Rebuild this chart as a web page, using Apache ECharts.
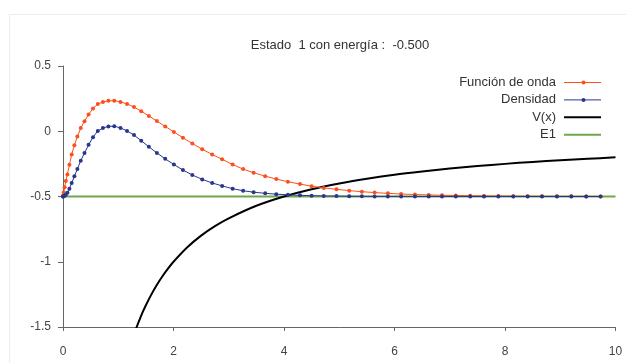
<!DOCTYPE html>
<html>
<head>
<meta charset="utf-8">
<script src="https://cdn.jsdelivr.net/npm/echarts@6/dist/echarts.min.js"></script>
<style>
  html, body { margin: 0; padding: 0; background: #fff; }
  #chart { width: 626px; height: 363px; }
</style>
</head>
<body>
<div id="chart"></div>
<script>
// Radial grid used by the solver (dense near the origin)
const xGrid = [0, 0.003, 0.013, 0.029, 0.051, 0.080, 0.116, 0.157, 0.206, 0.260,
  0.321, 0.389, 0.463, 0.543, 0.630, 0.723, 0.822, 0.928, 1.041, 1.159,
  1.285, 1.416, 1.554, 1.699, 1.850, 2.007, 2.171, 2.341, 2.52, 2.70,
  2.88, 3.07, 3.26, 3.45, 3.66, 3.86, 4.07, 4.29, 4.50, 4.72,
  4.95, 5.18, 5.41, 5.64, 5.88, 6.12, 6.37, 6.62, 6.86, 7.11,
  7.37, 7.62, 7.88, 8.15, 8.41, 8.67, 8.94, 9.20, 9.47, 9.73];

// Wave function, shifted by the state energy
const psi = [-0.5, -0.492, -0.469, -0.43, -0.382, -0.331, -0.257, -0.178, -0.107, -0.041,
  0.024, 0.077, 0.129, 0.174, 0.209, 0.224, 0.233, 0.234, 0.225, 0.209,
  0.186, 0.154, 0.117, 0.078, 0.037, -0.005, -0.05, -0.094, -0.138, -0.178,
  -0.215, -0.255, -0.29, -0.318, -0.344, -0.366, -0.387, -0.405, -0.421, -0.434,
  -0.445, -0.455, -0.463, -0.470, -0.476, -0.481, -0.485, -0.488, -0.4905, -0.4925,
  -0.494, -0.4953, -0.4964, -0.4972, -0.4978, -0.4983, -0.4987, -0.499, -0.4992, -0.4994];

// Probability density, shifted by the state energy
const density = [-0.5, -0.4999, -0.499, -0.4951, -0.4861, -0.4714, -0.441, -0.3963, -0.3456, -0.2893,
  -0.2254, -0.1671, -0.1044, -0.0457, 0.0027, 0.0242, 0.0373, 0.0388, 0.0256, 0.0027,
  -0.0294, -0.0723, -0.1193, -0.1659, -0.2116, -0.255, -0.2975, -0.3352, -0.369, -0.3963,
  -0.4188, -0.44, -0.4559, -0.4669, -0.4757, -0.482, -0.4872, -0.491, -0.4938, -0.4956,
  -0.497, -0.498, -0.4986, -0.4991, -0.4994, -0.4996, -0.4998, -0.4999, -0.4999, -0.4999,
  -0.5, -0.5, -0.5, -0.5, -0.5, -0.5, -0.5, -0.5, -0.5, -0.5];

// Coulomb potential
const potX = [1.25, 1.3, 1.35, 1.4, 1.45, 1.5, 1.6, 1.7, 1.8, 1.9, 2.0, 2.25, 2.5, 2.75, 3.0,
  3.5, 4.0, 4.5, 5.0, 5.5, 6.0, 6.5, 7.0, 7.5, 8.0, 8.5, 9.0, 9.5, 10.0];
const potV = [-1.6, -1.538, -1.481, -1.429, -1.379, -1.333, -1.25, -1.176, -1.111, -1.053, -1.0, -0.889, -0.8, -0.727, -0.667,
  -0.571, -0.5, -0.444, -0.4, -0.364, -0.333, -0.308, -0.286, -0.267, -0.25, -0.235, -0.222, -0.211, -0.2];

// Energy level
const energyX = [0, 10];
const energyE = [-0.5, -0.5];

const xTicks = [0, 2, 4, 6, 8, 10];
const yTicks = [-1.5, -1, -0.5, 0, 0.5];

const seriesNames = ['Función de onda', 'Densidad', 'V(x)', 'E1'];
const titleText = 'Estado  1 con energía :  -0.500';

const zip = (xs, ys) => xs.map((x, i) => [x, ys[i]]);

const FONT = '"Liberation Sans", Arial, sans-serif';
const ORANGE = '#fb4f1c';
const NAVY = '#29368f';
const GREEN = '#6ea84a';

// Key entries: colour, line width, whether the series carries dot markers
const keyStyles = [
  { color: ORANGE, width: 1, dot: true },
  { color: NAVY, width: 1, dot: true },
  { color: '#000', width: 2, dot: false },
  { color: GREEN, width: 2, dot: false }
];

// Hand-built key at the upper right of the plot
function buildKey() {
  const items = [];
  const textRight = 556, lineX0 = 564, lineX1 = 601, rowY0 = 82.5, rowStep = 17.4;
  seriesNames.forEach((name, i) => {
    const y = rowY0 + i * rowStep;
    const st = keyStyles[i];
    items.push({
      type: 'text', silent: true,
      style: { text: name, x: textRight, y: y, align: 'right', verticalAlign: 'middle',
        font: '13px ' + FONT, fill: '#333' }
    });
    items.push({
      type: 'line', silent: true,
      shape: { x1: lineX0, y1: y, x2: lineX1, y2: y },
      style: { stroke: st.color, lineWidth: st.width }
    });
    if (st.dot) {
      items.push({
        type: 'circle', silent: true,
        shape: { cx: (lineX0 + lineX1) / 2 + 1, cy: y, r: 2 },
        style: { fill: st.color }
      });
    }
  });
  return items;
}

const chart = echarts.init(document.getElementById('chart'), null, { renderer: 'canvas' });

chart.setOption({
  animation: false,
  backgroundColor: '#ffffff',
  title: {
    text: titleText,
    left: 335,
    textAlign: 'center',
    top: 34,
    textStyle: { fontFamily: FONT, fontSize: 13, fontWeight: 'normal', color: '#333' }
  },
  graphic: [{
    type: 'rect',
    shape: { x: 9.5, y: 14.5, width: 700, height: 400 },
    style: { fill: 'none', stroke: '#ececec', lineWidth: 1 },
    silent: true,
    z: -1
  }].concat(buildKey()),
  grid: { left: 63, right: 10.5, top: 66, bottom: 36 },
  xAxis: {
    type: 'value',
    min: xTicks[0],
    max: xTicks[xTicks.length - 1],
    interval: 2,
    axisLine: { onZero: false, lineStyle: { color: '#666', width: 1 } },
    axisTick: { length: 4, lineStyle: { color: '#666' } },
    axisLabel: { fontFamily: FONT, fontSize: 12, color: '#444', margin: 19 },
    splitLine: { show: false }
  },
  yAxis: {
    type: 'value',
    min: yTicks[0],
    max: yTicks[yTicks.length - 1],
    interval: 0.5,
    axisLine: { show: true, onZero: false, lineStyle: { color: '#666', width: 1 } },
    axisTick: { show: true, length: 5, lineStyle: { color: '#666' } },
    axisLabel: { fontFamily: FONT, fontSize: 12, color: '#444', margin: 12 },
    splitLine: { show: false }
  },
  series: [
    {
      name: seriesNames[3],
      type: 'line',
      data: zip(energyX, energyE),
      symbol: 'none',
      lineStyle: { color: GREEN, width: 2 },
      itemStyle: { color: GREEN },
      z: 2
    },
    {
      name: seriesNames[2],
      type: 'line',
      data: zip(potX, potV),
      symbol: 'none',
      smooth: 0.3,
      clip: true,
      lineStyle: { color: '#000', width: 2 },
      itemStyle: { color: '#000' },
      z: 3
    },
    {
      name: seriesNames[0],
      type: 'line',
      data: zip(xGrid, psi),
      symbol: 'circle',
      symbolSize: 4,
      showAllSymbol: true,
      lineStyle: { color: ORANGE, width: 1 },
      itemStyle: { color: ORANGE },
      z: 4
    },
    {
      name: seriesNames[1],
      type: 'line',
      data: zip(xGrid, density),
      symbol: 'circle',
      symbolSize: 4,
      showAllSymbol: true,
      lineStyle: { color: NAVY, width: 1 },
      itemStyle: { color: NAVY },
      z: 5
    }
  ]
});
</script>
</body>
</html>
